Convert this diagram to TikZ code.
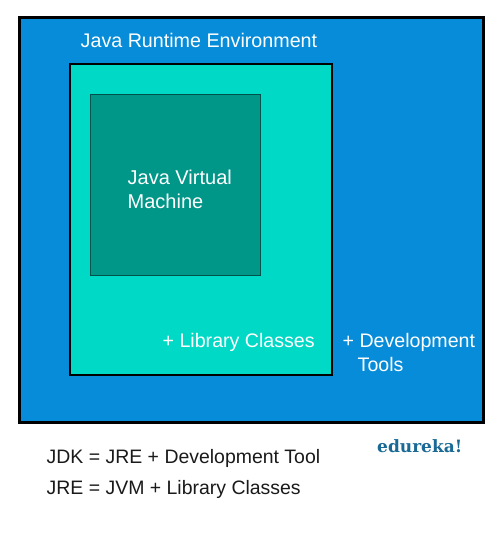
\documentclass[tikz,border=0pt]{standalone}
\usepackage{fontspec}
\setmainfont{Liberation Sans}
\newfontfamily\logofont{DejaVu Serif}
\definecolor{outerblue}{HTML}{068CD8}
\definecolor{midteal}{HTML}{00D9C5}
\definecolor{innerteal}{HTML}{009688}
\definecolor{innerline}{HTML}{00514A}
\definecolor{logoblue}{HTML}{1A6A96}
\definecolor{inktext}{HTML}{1A1A1A}
\tikzset{
  lightlabel/.style={text=white,font=\fontsize{19.6}{24}\selectfont,anchor=base west,inner sep=0pt},
  widelabel/.style={text=white,font=\fontsize{20}{24}\selectfont,anchor=base west,inner sep=0pt},
  titlelabel/.style={text=white,font=\fontsize{19.7}{24}\selectfont,anchor=base west,inner sep=0pt},
  darklabel/.style={text=inktext,font=\fontsize{19.45}{24}\selectfont,anchor=base west,inner sep=0pt}
}
\begin{document}
\begin{tikzpicture}[x=1pt,y=-1pt]
\useasboundingbox (0,0) rectangle (500,541);
\fill[white] (0,0) rectangle (500,541);
\draw[draw=black,fill=outerblue,line width=3pt] (19,17) rectangle (483,422);
\draw[draw=black,fill=midteal,line width=2pt] (70,64) rectangle (332,375);
\draw[draw=innerline,fill=innerteal,line width=1pt] (90.5,94.5) rectangle (260,275);
\node[titlelabel] (jre) at (80.5,47) {Java Runtime Environment};
\node[widelabel] (jvma) at (127.5,184) {Java Virtual};
\node[widelabel] (jvmb) at (127.5,208) {Machine};
\node[lightlabel] (lib) at (162.5,347.5) {+ Library Classes};
\node[lightlabel] (deva) at (342.5,347.5) {+ Development};
\node[lightlabel] (devb) at (357.5,371.5) {Tools};
\node[darklabel] (eqa) at (46.5,463) {JDK = JRE + Development Tool};
\node[darklabel] (eqb) at (46.5,494) {JRE = JVM + Library Classes};
\node[text=logoblue,font=\logofont\bfseries\fontsize{17}{20}\selectfont,anchor=base west,inner sep=0pt] (logo) at (377,452.5) {edureka!};
\end{tikzpicture}
\end{document}
